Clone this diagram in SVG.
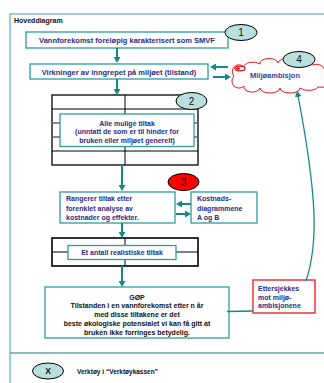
<svg xmlns="http://www.w3.org/2000/svg" width="324" height="383" viewBox="0 0 324 383">
<defs>
<marker id="ah" viewBox="0 0 6 7" refX="4" refY="3.5" markerWidth="6" markerHeight="7" orient="auto" markerUnits="userSpaceOnUse"><path d="M0,0 L6,3.5 L0,7 z" fill="#138a8a"/></marker>
<style>
.box{fill:#fff;stroke:#2f9c9c;stroke-width:1.3}
.tbl{fill:#fff;stroke:#000;stroke-width:1.3}
.tl{stroke:#000;stroke-width:1;fill:none}
.tg{stroke:#666;stroke-width:1.5;fill:none}
.nv{font-family:"Liberation Sans",Arial,sans-serif;font-weight:bold;fill:#2b2b85;font-size:7.5px}
.bk{font-family:"Liberation Sans",Arial,sans-serif;font-weight:bold;fill:#111;font-size:7px}
.num{font-family:"Liberation Sans",Arial,sans-serif;fill:#111;font-size:10px;text-anchor:middle}
.el{fill:#b9dfe1;stroke:#000;stroke-width:1}
.arr{stroke:#138a8a;stroke-width:2;fill:none;marker-end:url(#ah)}
.ln{stroke:#138a8a;stroke-width:1.3;fill:none}
</style>
</defs>
<rect x="0" y="0" width="324" height="383" fill="#fff"/>
<g id="frame">
<rect x="10" y="14" width="330" height="400" fill="none" stroke="#6cb5b5" stroke-width="1.3"/>
<line x1="10" y1="353" x2="324" y2="353" stroke="#5aa9a9" stroke-width="1.5"/>
<text x="14" y="23" class="bk" style="font-size:7px">Hoveddiagram</text>
</g>
<g id="node-box1">
<rect x="26" y="32" width="202" height="16" class="box"/>
<text x="127" y="43" class="nv" text-anchor="middle">Vannforekomst foreløpig karakterisert som SMVF</text>
</g>
<g id="node-e1"><ellipse cx="241" cy="32.5" rx="16" ry="8" class="el"/><text x="241" y="36" class="num">1</text></g>
<g id="node-box2">
<rect x="30" y="64" width="178" height="15" class="box"/>
<text x="119" y="74.5" class="nv" text-anchor="middle">Virkninger av inngrepet på miljøet (tilstand)</text>
</g>
<g id="node-cloud">
<path d="M234,76 A6,6 0 0 1 244,67 A9,5 0 0 1 260,64 A9,5 0 0 1 278,63 A9,5 0 0 1 296,64 A9,5 0 0 1 312,65 A8,5 0 0 1 324,69 A6,6 0 0 1 328,80 A8,5 0 0 1 318,87 A10,5 0 0 1 300,88 A10,5 0 0 1 280,88 A10,5 0 0 1 260,88 A8,5 0 0 1 244,86 A6,6 0 0 1 234,76 Z" fill="#fff" stroke="#e8161b" stroke-width="1"/>
<ellipse cx="240" cy="68.5" rx="5" ry="2.3" fill="none" stroke="#e8161b" stroke-width="1.3"/>
<ellipse cx="238" cy="68.5" rx="2" ry="1.3" fill="#e8161b"/>
<text x="275" y="78" class="nv" text-anchor="middle" style="font-size:7.5px;fill:#3a3aa0">Miljøambisjon</text>
</g>
<g id="node-e4"><ellipse cx="299" cy="59.5" rx="16" ry="8" class="el"/><text x="299" y="63" class="num">4</text></g>
<g id="node-table2">
<rect x="52" y="95" width="146" height="70" class="tbl"/>
<path d="M52,109 H198 M52,151 H198 M125,95 V165" class="tl"/>
<path d="M52,123 H198 M52,137 H198" class="tg"/>
<rect x="60" y="114" width="134" height="32.5" class="box"/>
<text x="127" y="125.5" class="nv" text-anchor="middle" style="font-size:7px">Alle mulige tiltak</text>
<text x="127" y="134" class="nv" text-anchor="middle" style="font-size:7px">(unntatt de som er til hinder for</text>
<text x="127" y="142.5" class="nv" text-anchor="middle" style="font-size:7px">bruken eller miljøet generelt)</text>
</g>
<g id="node-e2"><ellipse cx="191.5" cy="101" rx="15.5" ry="8.5" class="el"/><text x="191.5" y="104.5" class="num">2</text></g>
<g id="node-box3">
<rect x="60" y="192" width="115" height="31" class="box"/>
<text x="66" y="201" class="nv" style="font-size:7px">Rangerer tiltak etter</text>
<text x="66" y="210.5" class="nv" style="font-size:7px">forenklet analyse av</text>
<text x="66" y="220" class="nv" style="font-size:7px">kostnader og effekter.</text>
</g>
<g id="node-kost">
<rect x="191" y="192" width="66" height="31" class="box"/>
<text x="197" y="201" class="nv" style="font-size:7px">Kostnads-</text>
<text x="197" y="210.5" class="nv" style="font-size:7px">diagrammene</text>
<text x="197" y="220" class="nv" style="font-size:7px">A og B</text>
</g>
<g id="node-e3"><ellipse cx="183.5" cy="182" rx="15.5" ry="8.5" fill="#f00" stroke="#000" stroke-width="1"/><text x="183.5" y="185.5" class="num">3</text></g>
<g id="node-table4">
<rect x="52" y="238" width="146" height="28" class="tbl" style="stroke-width:1.6"/>
<path d="M52,252 H198 M125,238 V266" class="tl"/>
<rect x="68" y="245.5" width="108" height="14" class="box"/>
<text x="122" y="255" class="nv" text-anchor="middle" style="font-size:7px">Et antall realistiske tiltak</text>
</g>
<g id="node-gop">
<rect x="45" y="287" width="184" height="51" class="box"/>
<text x="137" y="299.5" class="bk" text-anchor="middle">GØP</text>
<text x="137" y="308" class="bk" text-anchor="middle">Tilstanden i en vannforekomst etter n år</text>
<text x="137" y="317" class="bk" text-anchor="middle">med disse tiltakene er det</text>
<text x="137" y="326" class="bk" text-anchor="middle">beste økologiske potensialet vi kan få gitt at</text>
<text x="137" y="334.5" class="bk" text-anchor="middle">bruken ikke forringes betydelig.</text>
</g>
<g id="node-etter">
<rect x="253" y="280" width="62" height="33" fill="#fff" stroke="#e8161b" stroke-width="1.3"/>
<text x="258" y="291" class="nv" style="font-size:7px">Ettersjekkes</text>
<text x="258" y="299.5" class="nv" style="font-size:7px">mot miljø-</text>
<text x="258" y="308" class="nv" style="font-size:7px">ambisjonene</text>
</g>
<g id="node-legend">
<ellipse cx="48" cy="371" rx="15.5" ry="8" class="el"/>
<text x="48" y="374" class="num" style="font-size:8.5px;font-weight:bold">X</text>
<text x="77" y="374" class="bk" style="font-size:6.5px">Verktøy i “Verktøykassen”</text>
</g>
<g id="connectors">
<line x1="117" y1="48" x2="117" y2="61" class="arr"/>
<line x1="117" y1="79" x2="117" y2="93" class="arr"/>
<line x1="122" y1="165" x2="122" y2="189" class="arr"/>
<line x1="122" y1="223" x2="122" y2="236" class="arr"/>
<line x1="122" y1="266" x2="122" y2="285" class="arr"/>
<line x1="228" y1="67" x2="212" y2="67" class="arr"/>
<line x1="213" y1="77" x2="229" y2="77" class="arr"/>
<line x1="191" y1="204" x2="178" y2="204" class="arr"/>
<line x1="176" y1="214" x2="189" y2="214" class="arr"/>
<line x1="227" y1="311.5" x2="253" y2="311" class="ln"/>
<path d="M306,281 C318,245 318,200 297.5,93" class="ln" marker-end="url(#ah)"/>
</g>
</svg>
